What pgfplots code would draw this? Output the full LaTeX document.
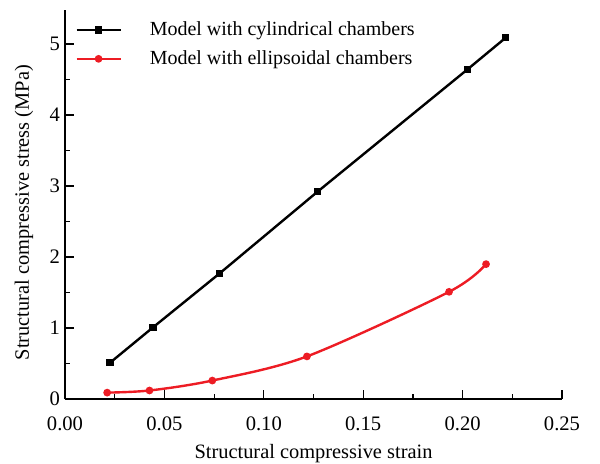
\documentclass[border=0pt]{standalone}
\usepackage{fontspec}
\setmainfont{Liberation Serif}
\usepackage{pgfplots}
\pgfplotsset{compat=1.18}
\definecolor{myred}{RGB}{237,28,36}
\begin{document}
\begin{tikzpicture}
\useasboundingbox (-32.5pt,-32pt) rectangle (267.5pt,199.5pt);
\begin{axis}[
  scale only axis,
  width=248.5pt, height=194.5pt,
  xmin=0, xmax=0.25, ymin=0, ymax=5.48,
  axis x line=bottom, axis y line=left,
  axis line style={-, line width=0.6pt},
  tick align=inside,
  major tick length=4.5pt, minor tick length=2.5pt,
  xtick={0,0.05,0.1,0.15,0.2,0.25},
  minor xtick={0.025,0.075,0.125,0.175,0.225},
  ytick={0,1,2,3,4,5},
  minor ytick={0.5,1.5,2.5,3.5,4.5},
  tick style={black, line width=0.6pt},
  xticklabel style={/pgf/number format/fixed, /pgf/number format/fixed zerofill, /pgf/number format/precision=2, /pgf/number format/assume math mode=true, yshift=-5.5pt},
  yticklabel style={/pgf/number format/assume math mode=true, xshift=1pt},
  ticklabel style={font=\fontsize{10.3}{12}\selectfont},
  xlabel={Structural compressive strain},
  ylabel={Structural compressive stress (MPa)},
  label style={font=\fontsize{10.2}{12}\selectfont},
  xlabel style={at={(axis description cs:0.5,0)}, anchor=center, yshift=-27.5pt},
  ylabel style={at={(axis description cs:0,0.5)}, anchor=center, xshift=-4pt, yshift=20.5pt},
  legend style={draw=none, fill=none, at={(axis description cs:0.008,0.992)}, anchor=north west,
    font=\fontsize{10}{12}\selectfont, row sep=2pt,
    /tikz/every odd column/.append style={column sep=12pt}},
  legend cell align=left,
  legend image code/.code={\draw[#1] (0pt,0pt) -- (22pt,0pt); \draw[#1, only marks] plot coordinates {(11pt,0pt)};},
]
\addplot[black, line width=1.2pt, mark=square*, mark size=1.2pt] coordinates {
(0.0226,0.51) (0.0443,1.01) (0.0778,1.77) (0.127,2.92) (0.2023,4.64) (0.2217,5.09)
};
\addlegendentry{Model with cylindrical chambers}
\addplot[myred, line width=1.2pt, mark=*, mark size=1.3pt, smooth, tension=0.5] coordinates {
(0.0212,0.09) (0.0425,0.12) (0.0741,0.26) (0.1217,0.60) (0.1932,1.51) (0.2118,1.90)
};
\addlegendentry{Model with ellipsoidal chambers}
\end{axis}
\end{tikzpicture}
\end{document}
